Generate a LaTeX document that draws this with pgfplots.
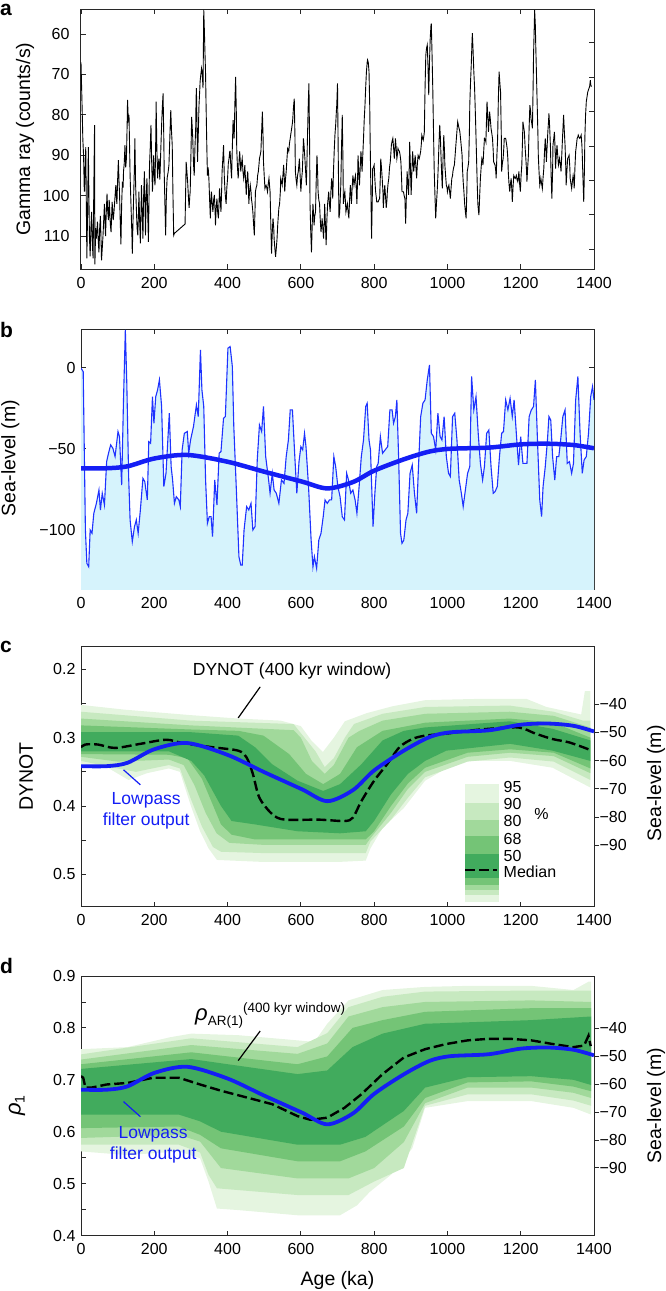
\documentclass[border=0pt]{standalone}
\usepackage{fontspec}
\setmainfont{Liberation Sans}
\usepackage{pgfplots}
\usepackage{pgfplotstable}
\pgfplotsset{compat=1.18}
\definecolor{g95}{RGB}{229,245,224}
\definecolor{g90}{RGB}{199,233,192}
\definecolor{g80}{RGB}{161,217,155}
\definecolor{g68}{RGB}{116,196,118}
\definecolor{g50}{RGB}{65,171,93}
\definecolor{sbfill}{RGB}{214,243,252}
\definecolor{lpblue}{RGB}{20,30,245}
\definecolor{slblue}{RGB}{30,50,255}
\definecolor{axgray}{RGB}{40,40,40}

\pgfplotstableread{
age sl
0 -0.4
6 -2.5
12 -100
16 -120.5
21 -122.6
25 -100
30 -102
35 -89.7
42 -83.6
49 -75.4
53 -87.7
58 -77.4
64 -84.6
70 -57.9
75 -52.8
81 -47.6
87 -49.7
93 -54.8
101 -39.4
105 -42.5
111 -72.3
116 -19.9
121 23.2
125 -9.7
130 -67.1
134 -93.8
140 -107.2
146 -97.9
151 -93.8
156 -102
162 -87.7
169 -68.2
174 -70.2
181 -81.5
185 -45.6
190 -46.6
195 -17.9
199 -34.3
204 -17.9
209 -13.8
214 -7.6
220 -24
226 -73.3
232 -65.1
236 -48.7
241 -28.1
246 -61
250 -69.2
255 -83.6
260 -79.5
267 -81.5
271 -85.6
276 -50.7
282 -40.5
290 -39.4
294 -52.8
299 -44.6
307 -36.3
315 -23
320 -30.2
326 10.9
330 -13.8
335 -24
340 -69.2
345 -95.9
350 -91.8
355 -91.8
359 -104.1
365 -69.2
371 -84.6
377 -52.8
382 -51.7
389 -31.2
394 -30.2
401 11.9
407 12.9
413 0.6
417 -36.3
424 -75.4
431 -116.4
436 -121.6
440 -121.6
445 -100
452 -85.6
458 -87.7
464 -83.6
469 -100
475 -97.9
481 -56.9
487 -35.3
493 -39.4
498 -24
504 -54.8
512 -69.2
516 -77.4
522 -65.1
527 -75.4
533 -77.4
540 -83.6
547 -69.2
554 -71.3
560 -54.8
566 -44.6
571 -26.1
577 -26.1
584 -56.9
589 -77.4
595 -57.9
600 -48.7
605 -50.7
610 -40.5
614 -48.7
621 -73.3
628 -106.2
633 -122.6
637 -116.4
643 -123.6
649 -106.2
655 -102
661 -91.8
666 -81.5
672 -83.6
678 -81.5
684 -81.5
690 -54.8
695 -61
701 -73.3
707 -79.5
713 -91.8
719 -93.8
725 -65.1
730 -69.2
736 -77.4
742 -75.4
748 -81.5
753 -89.7
759 -73.3
765 -54.8
771 -44.6
777 -24
781 -22
786 -44.6
790 -50.7
797 -97.9
802 -77.4
807 -61
811 -59
817 -42.5
823 -52.8
830 -50.7
837 -48.7
843 -26.1
849 -26.1
853 -34.3
858 -30.2
862 -19.9
867 -56.9
872 -102
876 -108.2
881 -106.2
887 -93.8
892 -89.7
898 -65.1
904 -60
910 -77.4
916 -89.7
921 -61
927 -30.2
933 -22
939 -19.9
945 -7.6
951 1.6
956 -40.5
962 -42.5
968 -50.7
974 -28.1
980 -42.5
985 -44.6
991 -30.2
997 -54.8
1003 -65.1
1008 -67.1
1014 -30.2
1020 -28.1
1026 -44.6
1032 -69.2
1038 -77.4
1043 -85.6
1049 -75.4
1055 -65.1
1061 -61
1066 -5.5
1072 -26.1
1078 -17.9
1084 -40.5
1090 -59
1096 -69.2
1101 -61
1107 -40.5
1113 -38.5
1119 -61
1125 -77.4
1130 -76.4
1136 -73.3
1142 -54.8
1148 -40.5
1153 -39.4
1159 -19.9
1165 -26.1
1171 -18.9
1177 -30.2
1182 -19.9
1188 -40.5
1194 -60
1200 -42.5
1206 -59
1211 -59
1217 -59
1223 -30.2
1229 -26.1
1235 -24
1240 -7.6
1246 -46.6
1252 -81.5
1257 -91.8
1261 -73.3
1267 -61
1273 -44.6
1277 -30.2
1282 -32.4
1287 -54.8
1293 -69.2
1298 -54.8
1304 -54.8
1309 -44.6
1315 -30.2
1321 -26.1
1327 -59
1333 -57.9
1339 -65.1
1344 -59
1350 -19.9
1356 -5.5
1362 -40.5
1368 -65.1
1373 -56.9
1379 -54.8
1385 -40.5
1391 -17.9
1396 -11.7
1400 -19.9
}\sldata

\pgfplotstableread{
age sl
0 -62
70 -62
127 -60.8
200 -56
290 -53.8
400 -58
498 -64
603 -70.2
672 -74.4
742 -70.5
800 -63.5
881 -56.5
951 -51.7
1008 -50
1113 -49.3
1200 -47.3
1275 -46.9
1344 -47.7
1400 -49.7
}\lpdata

\pgfplotsset{
  base/.style={scale only axis, width=513pt, xmin=0, xmax=1400,
    xtick={0,200,...,1400},
    tick align=inside, major tick length=5pt, minor tick length=5pt,
    axis line style={line width=1pt, axgray},
    every tick/.append style={line width=0.9pt, axgray},
    tick label style={font=\fontsize{16}{19}\selectfont},
    label style={font=\fontsize{19.5}{23}\selectfont},
    /pgf/number format/assume math mode=true,
    /pgf/number format/1000 sep={},
    xticklabel style={yshift=-4pt},
    yticklabel style={xshift=-2pt},
  },
  rightax/.style={scale only axis, width=513pt, xmin=0, xmax=1400,
    axis y line*=right, axis x line=none,
    tick align=outside, major tick length=5pt,
    axis line style={line width=1pt, axgray},
    every tick/.append style={line width=0.9pt, axgray},
    tick label style={font=\fontsize{16}{19}\selectfont},
    label style={font=\fontsize{19.5}{23}\selectfont},
    yticklabel style={xshift=-3pt},
  },
}
\newcommand{\tfont}{\fontsize{17.5}{21}\selectfont}
\newcommand{\lfont}{\fontsize{16}{19}\selectfont}

\begin{document}
\begin{tikzpicture}
\useasboundingbox (0pt,0pt) rectangle (666pt,-1291pt);

% panel labels
\node[font=\fontsize{21}{24}\selectfont\bfseries, anchor=base west, inner sep=0pt] at (0pt,-15pt) {a};
\node[font=\fontsize{21}{24}\selectfont\bfseries, anchor=base west, inner sep=0pt] at (0pt,-337pt) {b};
\node[font=\fontsize{21}{24}\selectfont\bfseries, anchor=base west, inner sep=0pt] at (0pt,-652pt) {c};
\node[font=\fontsize{21}{24}\selectfont\bfseries, anchor=base west, inner sep=0pt] at (0pt,-973pt) {d};

%%%%%%%%%%%%%%%% panel a
\begin{axis}[base, at={(81pt,-9pt)}, anchor=north west, height=260.3pt,
  y dir=reverse, ymin=53.8, ymax=118.2, ytick={60,70,...,110},
  xtick pos=both, ytick pos=left, yticklabel style={xshift=-6pt},
  ylabel={Gamma ray (counts/s)},
  ylabel style={at={(axis description cs:-0.109,0.5)}, anchor=center}]
\addplot[black, line width=0.9pt] coordinates {
(0,67) (3,78) (5,86) (7,90) (9,99) (11,94) (13,88) (16,115.5) (18,104) (20,88) (23,110) (25,115) (27,108) (29,104) (31,112) (33,115.5) (35,98) (37,82.5) (38,117) (40,108) (42,110.6) (45,106.4) (47,111) (49,114) (51,108) (53,105) (55,112) (56,116) (58,113) (60,110) (62,106) (64,102) (66,108) (67,110) (69,104) (71,99.5) (73,104) (75,106) (77,101) (78,103) (80,107) (82,109) (84,104) (85,101.5) (88,106) (90,104) (93,100) (95,97.4) (97,101) (98,102) (100,96) (102,91.2) (104,97) (105,99) (107,106) (109,112) (111,102) (113,96.5) (115,98) (116,94) (118,92) (120,87.5) (122,93) (124,90.8) (126,82) (127,76.3) (129,81) (131,80) (133,90) (134,95) (136,101) (137,104) (139,110) (140,114.3) (142,106) (144,99) (146,92) (147,85.8) (149,97) (151,103) (153,108) (155,109.8) (157,104) (158,99) (160,106) (162,111.8) (164,103) (165,97.4) (167,104) (169,110.6) (171,100) (173,94) (175,104) (176,109.8) (178,100) (180,95.7) (182,104) (184,111.4) (186,98) (187,92.4) (189,88) (191,82.5) (193,92) (195,99) (197,94) (198,90) (200,95) (202,97.4) (204,86) (205,76.7) (207,88) (209,95.7) (211,92) (213,90.8) (215,96) (216,94) (218,88) (220,82.5) (222,78) (224,74.7) (226,86) (227,94) (229,102) (231,109.8) (233,100) (235,95.7) (238,94) (240,92.4) (243,84) (245,78.8) (247,84) (249,87.5) (251,100) (253,109.8) (255,109.3) (284,107) (287,91.6) (289,94) (291,96.5) (293,100) (295,103) (297,100) (298,99) (300,90) (302,80.5) (304,84) (305,85.8) (307,92) (309,95) (311,88) (313,83.3) (314,76) (315,73.4) (317,85) (318,91.6) (320,85) (322,77.6) (324,74) (325,71.8) (327,70) (329,68.5) (331,70) (333,73.4) (335,54) (337,60) (338,63.5) (340,70) (341,75.9) (343,86) (345,95) (347,93) (349,95.7) (351,101) (353,105.6) (355,100) (356,99) (358,102) (360,104) (362,101) (364,99.8) (366,104) (367,107.3) (369,103) (371,100.7) (373,104) (375,105.6) (377,101) (378,98.2) (380,101) (382,104) (384,98) (385,94) (387,91) (389,87.5) (391,95) (393,99) (395,101) (396,102) (398,98) (400,95.7) (402,92) (404,90.8) (406,89) (407,89) (409,93) (411,95.7) (413,88) (415,81.3) (417,84) (418,85.8) (420,77) (422,70.6) (424,80) (425,88.3) (427,93) (429,95.7) (431,92) (433,89) (435,92) (436,94) (438,92) (440,90.8) (442,94) (444,95.7) (446,94) (447,92.4) (449,96) (451,99.8) (453,96) (455,94) (457,98) (458,102) (460,99) (462,97.4) (464,99) (465,100.7) (467,102) (469,104) (471,107) (473,109.8) (475,103) (476,99) (478,98) (480,97.4) (482,95) (484,94) (486,92) (487,90.8) (489,90) (491,89) (493,84) (495,79.2) (497,86) (498,91.6) (500,95) (502,98.2) (504,97.6) (505,97.4) (507,98) (509,99) (511,97) (513,95.7) (515,98) (516,99) (518,107) (520,114.3) (522,109) (524,105.6) (526,108) (527,110.6) (529,113) (531,115.1) (533,113) (535,110.6) (537,107) (538,105.6) (540,103) (542,102) (544,99) (545,95.7) (547,96.5) (549,97.4) (551,95) (553,92.4) (555,96) (556,99) (558,96) (560,94) (562,91) (564,88.3) (566,88.7) (567,89) (569,87) (571,85.8) (573,84.5) (575,83.3) (577,82) (578,80.9) (580,78) (582,76) (584,86) (585,94) (587,96) (589,97.4) (591,95) (593,94) (595,92) (596,90.8) (598,95) (600,99) (602,96) (604,94) (606,89) (607,85.8) (609,88) (611,90.8) (613,94) (615,97.4) (617,90) (618,85.8) (620,78) (622,72.2) (624,88) (625,102) (627,109) (629,114) (631,107) (633,102) (635,105) (636,107.3) (638,105) (640,104) (642,96) (644,90) (646,95) (647,99) (649,101) (651,102) (653,106) (655,109) (657,107) (658,105.6) (660,108) (662,110.6) (664,106) (665,102) (667,107) (669,112.2) (671,106) (673,102) (675,100) (676,99) (678,102) (680,104) (682,99) (684,95.7) (686,98) (687,100.7) (689,94) (691,89) (693,85) (695,82.5) (697,79) (698,77.6) (700,72.2) (702,90) (704,105.6) (706,104) (709,97.4) (711,88) (713,80) (715,92) (716,102) (718,100) (720,99) (722,102) (723,104) (725,103) (727,102) (729,104) (731,105.6) (733,101) (735,97.4) (737,100) (738,102) (740,98) (742,95) (744,96.5) (745,97.4) (747,96) (749,95) (751,98) (753,102) (755,95) (756,90) (758,94) (760,97.4) (762,93) (764,89) (766,92) (767,94) (769,90) (771,85.8) (773,81) (775,77.6) (777,73) (779,69.3) (781,67) (782,66.4) (784,67) (786,69.3) (788,78) (789,85.8) (791,98) (793,110.6) (795,100) (796,93.3) (798,93) (800,92.4) (802,96) (804,99) (806,100.5) (807,101.5) (809,101.5) (811,101.5) (813,101) (815,100.7) (817,95) (818,90.8) (820,93) (822,95.7) (824,99) (825,103) (827,100) (829,97.4) (831,100) (833,103) (835,101) (836,99) (838,97) (840,95.7) (842,93) (844,91.6) (846,89) (847,87.5) (849,86.5) (851,85.8) (853,88) (855,90.8) (857,88) (858,85.8) (860,88) (862,90.8) (864,89.5) (865,88.3) (867,88.8) (869,89) (871,90) (873,91.6) (875,96) (876,99) (878,99) (880,99) (882,100) (884,100.7) (885,104) (886,106.9) (888,100) (890,94) (892,97) (894,99.8) (896,92) (897,86.7) (899,93) (901,99.8) (903,94) (905,89) (907,92) (908,94) (910,92) (912,90) (914,93) (916,95.7) (918,92) (920,90) (922,90.5) (923,90.8) (925,90) (927,89) (929,87) (930,85) (932,85.6) (934,86.2) (936,85) (937,84.2) (939,73) (941,65.2) (943,63.5) (945,62.7) (947,68) (949,75.1) (951,67) (953,61.1) (955,58) (956,57.4) (958,65) (960,73.4) (962,84) (964,94) (966,100) (968,105.6) (970,102) (972,99) (974,95) (975,92.4) (977,87) (979,82.5) (981,86) (982,89) (984,94) (986,98.2) (988,91) (990,85) (992,89) (993,92.4) (995,95) (997,97.4) (999,98) (1000,99) (1002,98) (1004,97.4) (1006,99) (1008,100.7) (1010,98) (1012,95.7) (1014,95) (1015,94) (1017,93) (1019,92.4) (1021,90) (1023,87.5) (1026,84) (1028,81.7) (1031,83) (1034,84.2) (1037,87) (1040,90) (1041,93) (1043,96.5) (1045,99) (1047,102) (1049,104) (1051,105.6) (1053,99) (1054,94) (1056,93) (1058,91.6) (1060,84) (1061,77.6) (1063,72) (1065,67.7) (1067,62) (1068,59.8) (1070,64) (1072,69.3) (1074,73) (1075,75.9) (1077,82) (1079,89) (1081,96) (1083,102) (1085,104) (1086,104.8) (1088,100) (1090,95.7) (1092,93) (1094,90.8) (1096,91.5) (1097,92.4) (1099,89) (1101,85.8) (1103,86) (1105,86.7) (1107,80) (1108,76.7) (1110,80) (1112,84.2) (1114,81) (1115,79.2) (1117,81) (1119,83.3) (1121,84.5) (1123,85.8) (1125,89) (1126,91.6) (1128,92) (1130,92.4) (1132,94) (1133,95.7) (1135,90) (1137,85.8) (1139,76) (1141,69.3) (1143,72) (1145,74.3) (1147,85) (1148,94) (1150,92) (1152,90.8) (1154,88) (1155,85.8) (1157,85.8) (1159,85.8) (1161,87) (1163,88.3) (1165,91) (1166,94) (1168,97) (1170,99) (1172,97) (1174,95.7) (1176,99) (1177,101.5) (1179,98) (1181,95) (1183,95.4) (1185,95.7) (1187,95.3) (1188,95) (1190,96) (1192,96.5) (1194,95) (1195,94) (1197,97) (1199,99) (1201,95) (1203,92.4) (1205,86) (1206,81.7) (1208,83) (1210,84.2) (1212,88) (1214,90.8) (1216,94) (1217,96.5) (1219,93) (1221,90) (1223,83) (1225,77.6) (1227,79) (1228,80.9) (1230,82) (1232,83.3) (1234,72) (1235,65.2) (1237,58) (1238,54.1) (1240,58) (1241,62.7) (1243,70) (1245,77.6) (1247,85) (1248,90) (1250,94) (1252,97.4) (1254,96.5) (1255,95.7) (1257,97) (1259,98.2) (1261,95.5) (1263,93.3) (1265,89) (1267,85.8) (1269,89) (1270,91.6) (1272,88) (1274,84.2) (1276,81.5) (1277,79.6) (1279,83) (1281,87.5) (1283,95) (1285,100.7) (1287,94) (1288,87.5) (1290,86) (1292,84.2) (1294,89) (1295,93.3) (1297,90) (1299,87.5) (1301,90) (1303,92.4) (1305,91.5) (1306,90.8) (1308,92) (1310,94) (1312,90) (1314,85.8) (1316,82) (1317,80) (1319,84) (1321,87.5) (1323,93) (1324,97.4) (1326,94) (1328,90.8) (1330,90.5) (1332,90) (1334,93) (1335,95.7) (1337,97) (1339,98.2) (1341,96.5) (1343,95) (1345,96.5) (1346,98.2) (1348,93) (1350,89) (1352,87.5) (1354,85.8) (1356,85.4) (1357,85) (1359,85.5) (1361,85.8) (1363,85.5) (1365,85) (1367,87.5) (1368,90) (1370,96) (1372,101.5) (1374,93) (1375,85.8) (1377,80) (1379,76.7) (1381,75.5) (1383,74.3) (1386,73.5) (1388,73) (1390,71.4) (1391,72.5) (1393,73)
};
\end{axis}
\begin{axis}[rightax, at={(81pt,-9pt)}, anchor=north west, height=260.3pt,
  tick align=inside, ymin=-0.581, ymax=6.979, ytick={0,1,2,3,4,5,6},
  yticklabels={,,,,,,}]
\end{axis}

%%%%%%%%%%%%%%%% panel b
\begin{axis}[base, at={(81pt,-329pt)}, anchor=north west, height=260.3pt,
  ymin=-136.5, ymax=23.7, ytick={-100,-50,0}, yticklabels={−100,−50,0},
  xtick pos=both, ytick pos=both,
  ylabel={Sea-level (m)},
  ylabel style={at={(axis description cs:-0.138,0.504)}, anchor=center}]
\addplot[fill=sbfill, draw=none] table[x=age, y=sl] {\sldata} -- (axis cs:1400,-150) -- (axis cs:0,-150) -- cycle;
\addplot[slblue, line width=1.1pt] table[x=age, y=sl] {\sldata};
\addplot[lpblue, line width=4.5pt, smooth] table[x=age, y=sl] {\lpdata};
\end{axis}

%%%%%%%%%%%%%%%% panel c
\begin{axis}[base, at={(81pt,-646.5pt)}, anchor=north west, height=260.2pt,
  y dir=reverse, ymin=0.1665, ymax=0.5475,
  ytick={0.2,0.3,0.4,0.5}, minor ytick={0.25,0.35,0.45},
  yticklabels={0.2,0.3,0.4,0.5},
  xtick pos=bottom, ytick pos=left,
  ylabel={DYNOT},
  ylabel style={at={(axis description cs:-0.107,0.5)}, anchor=center}]
% 95
\addplot[fill=g95, draw=none] coordinates {
(0,0.252) (120,0.259) (300,0.267) (430,0.272) (545,0.275) (600,0.283) (630,0.305) (660,0.321) (690,0.300) (720,0.276) (780,0.264) (850,0.254) (940,0.245) (1100,0.243) (1215,0.243) (1270,0.255) (1365,0.266) (1375,0.232) (1390,0.232)
(1390,0.373) (1287,0.344) (1171,0.334) (1055,0.334) (1000,0.344) (939,0.363) (881,0.403) (823,0.432) (790,0.462) (777,0.480) (700,0.482) (500,0.482) (371,0.479) (348,0.462) (325,0.437) (300,0.400) (270,0.350) (240,0.345) (180,0.352) (130,0.362) (70,0.343) (0,0.340)} -- cycle;
% 90
\addplot[fill=g90, draw=none] coordinates {
(0,0.262) (300,0.275) (580,0.280) (610,0.300) (640,0.320) (665,0.343) (690,0.330) (720,0.300) (745,0.280) (823,0.265) (940,0.255) (1170,0.253) (1290,0.262) (1370,0.275) (1390,0.275)
(1390,0.362) (1290,0.335) (1171,0.329) (1055,0.335) (939,0.358) (892,0.388) (846,0.420) (790,0.452) (777,0.469) (500,0.469) (382,0.467) (360,0.460) (330,0.430) (300,0.390) (270,0.345) (240,0.340) (150,0.350) (100,0.345) (0,0.334)} -- cycle;
% 80
\addplot[fill=g80, draw=none] coordinates {
(0,0.272) (300,0.282) (580,0.289) (600,0.300) (630,0.334) (665,0.353) (690,0.340) (730,0.300) (760,0.290) (823,0.275) (940,0.265) (1170,0.262) (1290,0.268) (1390,0.285)
(1390,0.352) (1290,0.327) (1171,0.322) (1055,0.328) (939,0.350) (892,0.375) (846,0.410) (790,0.447) (777,0.457) (500,0.457) (405,0.454) (370,0.440) (340,0.410) (310,0.370) (280,0.340) (240,0.332) (100,0.335) (0,0.328)} -- cycle;
% 68
\addplot[fill=g68, draw=none] coordinates {
(0,0.282) (300,0.288) (430,0.290) (498,0.297) (568,0.324) (614,0.353) (661,0.368) (707,0.353) (753,0.314) (823,0.290) (940,0.278) (1170,0.272) (1290,0.278) (1390,0.300)
(1390,0.345) (1290,0.322) (1171,0.317) (1055,0.322) (939,0.344) (892,0.367) (846,0.400) (800,0.437) (777,0.449) (475,0.449) (411,0.442) (382,0.427) (330,0.360) (290,0.330) (240,0.325) (0,0.324)} -- cycle;
% 50
\addplot[fill=g50, draw=none] coordinates {
(0,0.292) (301,0.292) (429,0.297) (475,0.314) (522,0.339) (591,0.363) (661,0.378) (707,0.368) (765,0.339) (823,0.304) (881,0.290) (939,0.285) (1171,0.276) (1287,0.287) (1390,0.304)
(1390,0.334) (1287,0.319) (1171,0.309) (997,0.319) (939,0.334) (892,0.353) (846,0.383) (800,0.422) (777,0.437) (707,0.440) (591,0.437) (475,0.427) (411,0.422) (382,0.400) (336,0.355) (301,0.334) (240,0.320) (0,0.320)} -- cycle;
% median
\addplot[black, line width=2.4pt, dash pattern=on 10pt off 4pt, smooth] coordinates {
(0,0.314) (12,0.310) (46,0.310) (93,0.315) (162,0.309) (232,0.303) (278,0.308) (359,0.314) (429,0.319) (452,0.329) (469,0.353) (487,0.388) (522,0.412) (556,0.420) (649,0.420) (719,0.422) (742,0.417) (765,0.393) (800,0.363) (835,0.339) (869,0.314) (904,0.302) (939,0.297) (997,0.294) (1055,0.290) (1113,0.287) (1194,0.285) (1240,0.294) (1287,0.302) (1333,0.307) (1385,0.317)};
% colour bar legend
\addplot[fill=g95, draw=none] coordinates {(1049,0.368) (1142,0.368) (1142,0.395) (1049,0.395)} -- cycle;
\addplot[fill=g90, draw=none] coordinates {(1049,0.395) (1142,0.395) (1142,0.420) (1049,0.420)} -- cycle;
\addplot[fill=g80, draw=none] coordinates {(1049,0.420) (1142,0.420) (1142,0.444) (1049,0.444)} -- cycle;
\addplot[fill=g68, draw=none] coordinates {(1049,0.444) (1142,0.444) (1142,0.470) (1049,0.470)} -- cycle;
\addplot[fill=g50, draw=none] coordinates {(1049,0.470) (1142,0.470) (1142,0.506) (1049,0.506)} -- cycle;
\addplot[fill=g68, draw=none] coordinates {(1049,0.506) (1142,0.506) (1142,0.516) (1049,0.516)} -- cycle;
\addplot[fill=g80, draw=none] coordinates {(1049,0.516) (1142,0.516) (1142,0.523) (1049,0.523)} -- cycle;
\addplot[fill=g90, draw=none] coordinates {(1049,0.523) (1142,0.523) (1142,0.530) (1049,0.530)} -- cycle;
\addplot[fill=g95, draw=none] coordinates {(1049,0.530) (1142,0.530) (1142,0.540) (1049,0.540)} -- cycle;
\addplot[black, line width=2.4pt, dash pattern=on 10pt off 4pt] coordinates {(1049,0.494) (1136,0.494)};
\node[font=\lfont, anchor=west, inner sep=0pt] at (axis cs:1153,0.372) {95};
\node[font=\lfont, anchor=west, inner sep=0pt] at (axis cs:1153,0.397) {90};
\node[font=\lfont, anchor=west, inner sep=0pt] at (axis cs:1153,0.422) {80};
\node[font=\lfont, anchor=west, inner sep=0pt] at (axis cs:1153,0.448) {68};
\node[font=\lfont, anchor=west, inner sep=0pt] at (axis cs:1153,0.473) {50};
\node[font=\lfont, anchor=west, inner sep=0pt] at (axis cs:1153,0.496) {Median};
\node[font=\lfont, anchor=center, inner sep=0pt] at (axis cs:1257,0.4115) {\%};
% annotations
\node[font=\tfont, anchor=center, inner sep=0pt] at (axis cs:576,0.202) {DYNOT (400 kyr window)};
\addplot[black, line width=1.2pt] coordinates {(489,0.2256) (429,0.271)};
\node[font=\tfont, text=lpblue, align=center, anchor=center, inner sep=0pt] at (axis cs:178,0.4075) {Lowpass\\filter output};
\addplot[lpblue, line width=1.2pt] coordinates {(116,0.347) (162,0.369)};
\end{axis}
\begin{axis}[rightax, at={(81pt,-646.5pt)}, anchor=north west, height=260.2pt,
  ymin=-111.8, ymax=-19.6, ytick={-90,-80,-70,-60,-50,-40},
  yticklabels={−90,−80,−70,−60,−50,−40},
  ylabel={Sea-level (m)},
  ylabel style={at={(axis description cs:1.121,0.474)}, anchor=center}]
\addplot[lpblue, line width=3.8pt, smooth] table[x=age, y=sl] {\lpdata};
\end{axis}

%%%%%%%%%%%%%%%% panel d
\begin{axis}[base, at={(81pt,-976pt)}, anchor=north west, height=259.5pt,
  ymin=0.4, ymax=0.9,
  ytick={0.4,0.5,0.6,0.7,0.8,0.9}, minor ytick={0.45,0.55,0.65,0.75,0.85},
  yticklabels={0.4,0.5,0.6,0.7,0.8,0.9},
  xtick pos=bottom, ytick pos=left,
  ylabel={{\fontsize{22}{24}\selectfont\itshape ρ}\raisebox{-4pt}{\fontsize{14}{16}\selectfont 1}},
  ylabel style={at={(axis description cs:-0.125,0.5)}, anchor=center},
  xlabel={Age (ka)},
  xlabel style={at={(axis description cs:0.5,-0.1715)}, anchor=center}]
% 95
\addplot[fill=g95, draw=none] coordinates {
(0,0.759) (127,0.763) (243,0.782) (301,0.789) (429,0.786) (591,0.776) (637,0.773) (672,0.808) (730,0.853) (823,0.873) (939,0.879) (1055,0.881) (1229,0.881) (1344,0.873) (1385,0.889) (1392,0.889)
(1392,0.633) (1344,0.646) (1229,0.659) (1055,0.659) (939,0.646) (904,0.568) (846,0.517) (788,0.484) (753,0.458) (707,0.439) (591,0.439) (429,0.449) (371,0.452) (348,0.504) (325,0.549) (267,0.562) (127,0.555) (0,0.562)} -- cycle;
% 90
\addplot[fill=g90, draw=none] coordinates {
(0,0.749) (301,0.780) (591,0.763) (672,0.790) (730,0.840) (823,0.860) (939,0.870) (1229,0.872) (1392,0.872)
(1392,0.650) (1344,0.660) (1229,0.672) (1055,0.672) (939,0.650) (881,0.530) (800,0.504) (730,0.478) (591,0.478) (371,0.491) (348,0.517) (325,0.560) (267,0.575) (0,0.575)} -- cycle;
% 80
\addplot[fill=g80, draw=none] coordinates {
(0,0.739) (301,0.767) (591,0.750) (672,0.770) (730,0.822) (823,0.840) (939,0.850) (1229,0.853) (1392,0.850)
(1392,0.665) (1344,0.675) (1229,0.685) (1055,0.685) (939,0.655) (881,0.580) (800,0.530) (730,0.510) (591,0.510) (382,0.530) (325,0.581) (267,0.594) (0,0.588)} -- cycle;
% 68
\addplot[fill=g68, draw=none] coordinates {
(0,0.730) (301,0.753) (591,0.730) (672,0.745) (741,0.800) (823,0.815) (939,0.831) (1229,0.838) (1392,0.838)
(1392,0.678) (1344,0.687) (1229,0.697) (1055,0.695) (939,0.665) (881,0.610) (776,0.562) (707,0.543) (591,0.543) (382,0.568) (325,0.594) (267,0.610) (0,0.607)} -- cycle;
% 50
\addplot[fill=g50, draw=none] coordinates {
(0,0.721) (301,0.740) (591,0.711) (672,0.718) (741,0.763) (823,0.789) (939,0.808) (1229,0.815) (1392,0.822)
(1392,0.690) (1344,0.700) (1229,0.707) (1055,0.705) (939,0.685) (881,0.640) (776,0.590) (707,0.575) (591,0.575) (382,0.600) (325,0.620) (267,0.633) (0,0.633)} -- cycle;
% median
\addplot[black, line width=2.4pt, dash pattern=on 10pt off 4pt] coordinates {
(0,0.707) (6,0.704) (12,0.685) (29,0.685) (70,0.691) (127,0.694) (197,0.704) (267,0.704) (325,0.691) (382,0.679) (452,0.666) (522,0.653) (591,0.630) (626,0.623) (672,0.627) (719,0.646) (765,0.672) (823,0.711) (881,0.743) (939,0.759) (997,0.769) (1055,0.776) (1113,0.779) (1171,0.779) (1229,0.776) (1287,0.769) (1344,0.763) (1373,0.766) (1385,0.785) (1391,0.765)};
% annotations
\node[anchor=base west, inner sep=0pt] at (axis cs:311,0.8145) {{\fontsize{22}{24}\selectfont\itshape ρ}\raisebox{-5pt}{\fontsize{13.5}{15}\selectfont AR(1)}\raisebox{8pt}{\fontsize{13.5}{15}\selectfont (400 kyr window)}};
\addplot[black, line width=1.2pt] coordinates {(489,0.794) (429,0.737)};
\node[font=\tfont, text=lpblue, align=center, anchor=center, inner sep=0pt] at (axis cs:197,0.574) {Lowpass\\filter output};
\addplot[lpblue, line width=1.2pt] coordinates {(116,0.658) (162,0.629)};
\end{axis}
\begin{axis}[rightax, at={(81pt,-976pt)}, anchor=north west, height=259.5pt,
  ymin=-114.2, ymax=-21.3, ytick={-90,-80,-70,-60,-50,-40},
  yticklabels={−90,−80,−70,−60,−50,−40},
  ylabel={Sea-level (m)},
  ylabel style={at={(axis description cs:1.121,0.5)}, anchor=center}]
\addplot[lpblue, line width=3.8pt, smooth] table[x=age, y=sl] {\lpdata};
\end{axis}
\end{tikzpicture}
\end{document}
